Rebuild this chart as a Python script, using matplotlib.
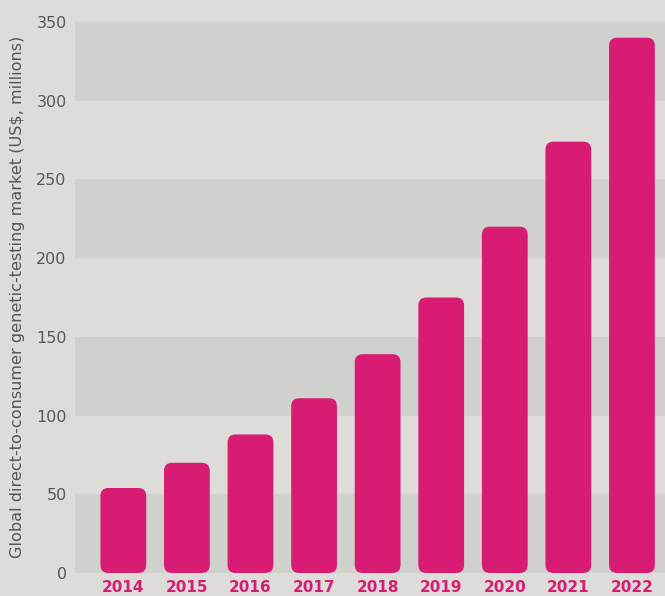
import matplotlib
matplotlib.use("Agg")
import matplotlib.pyplot as plt
from matplotlib.patches import FancyBboxPatch

years = ["2014", "2015", "2016", "2017", "2018", "2019", "2020", "2021", "2022"]
values = [54, 70, 88, 111, 139, 175, 220, 274, 340]
yticks = [0, 50, 100, 150, 200, 250, 300, 350]

BAR = "#d81c74"
BG = "#dddcd8"
DARK = "#d0d0cc"

fig = plt.figure(figsize=(6.65, 5.96), dpi=100, facecolor=BG)
ax_l, ax_b, ax_t = 75, 573, 22
ax = fig.add_axes([ax_l/665, (596-ax_b)/596, 1 - ax_l/665, (ax_b-ax_t)/596])
ax.set_facecolor(BG)

x0, x1 = -0.76, 8.52
ax.set_xlim(x0, x1)
ax.set_ylim(0, 350)

for lo in (0, 100, 200, 300):
    ax.axhspan(lo, lo + 50, color=DARK, lw=0, zorder=0)

width = 0.72
ax_w_px = 665 - ax_l
ax_h_px = ax_b - ax_t
px_per_x = ax_w_px / (x1 - x0)
px_per_y = ax_h_px / 350
rad_px = 8
for i, v in enumerate(values):
    p = FancyBboxPatch((i - width/2 + rad_px/px_per_x, rad_px/px_per_y),
                       width - 2*rad_px/px_per_x, v - 2*rad_px/px_per_y,
                       boxstyle=f"round,pad={rad_px/px_per_x}",
                       mutation_aspect=px_per_x/px_per_y,
                       fc=BAR, ec="none", zorder=2)
    ax.add_patch(p)

ax.set_xticks(range(len(years)))
ax.set_xticklabels(years, color=BAR, fontweight="bold", fontsize=11)
ax.set_yticks(yticks)
ax.set_yticklabels([str(t) for t in yticks], color="#575757", fontsize=11.5)
ax.tick_params(axis="both", length=0)
ax.tick_params(axis="x", pad=5)
ax.tick_params(axis="y", pad=6)
for s in ax.spines.values():
    s.set_visible(False)

fig.text(18/665, 1 - 297/596, "Global direct-to-consumer genetic-testing market (US$, millions)",
         rotation=90, ha="center", va="center", fontsize=11.6, color="#555555")

fig.savefig("out.png", dpi=100, facecolor=BG)
